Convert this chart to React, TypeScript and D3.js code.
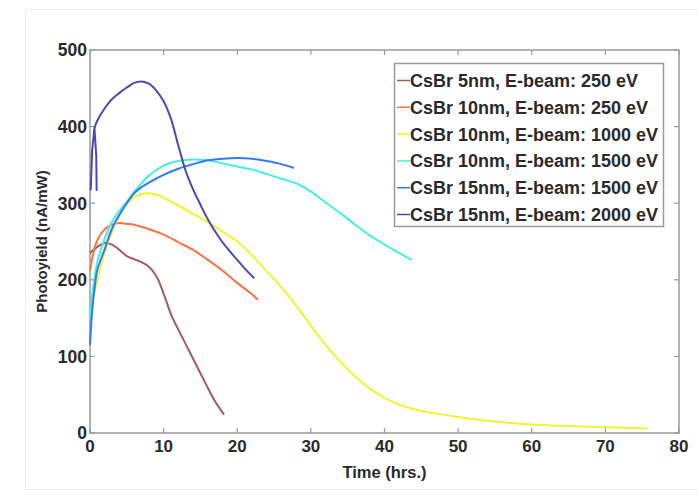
import React, { useEffect, useRef } from "react";
import * as d3 from "d3";

// series values: [time (hrs), photoyield (nA/mW)]
const cs5nm250: [number, number][] = [
  [0, 235], [1, 243], [2, 248], [3, 246], [4, 239], [5, 231], [6, 227], [7, 223],
  [8, 217], [9, 205], [10, 182], [11, 155], [12, 135], [13, 116], [14, 97],
  [15, 78], [16, 59], [17, 41], [18.2, 24],
];
const cs10nm250: [number, number][] = [
  [0, 212], [0.4, 232], [1, 252], [2, 266], [3, 272], [4, 274], [5, 273], [6, 272],
  [8, 266], [10, 259], [12, 249], [14, 239], [16, 226], [18, 212], [20, 196],
  [22, 181], [22.8, 174],
];
const cs10nm1000: [number, number][] = [
  [0, 152], [0.5, 178], [1, 200], [2, 236], [3, 263], [4, 284], [5, 299], [6, 308],
  [7, 312], [8, 313], [9, 311], [10, 307], [12, 297], [14, 286], [16, 275],
  [18, 263], [20, 250], [22, 232], [24, 211], [26, 190], [28, 166], [30, 140],
  [32, 115], [34, 93], [36, 74], [38, 58], [40, 46], [42, 37], [44, 31], [46, 27],
  [48, 24], [50, 21], [55, 15], [60, 11], [65, 9], [70, 7.5], [75.8, 6],
];
const cs10nm1500: [number, number][] = [
  [0, 150], [0.5, 195], [1, 224], [2, 254], [3, 276], [4, 290], [5, 302], [6, 315],
  [8, 336], [10, 349], [12, 355], [14, 357], [16, 356], [18, 352], [20, 348],
  [22, 344], [24, 338], [26, 332], [28, 326], [30, 315], [32, 301], [34, 287],
  [36, 272], [38, 258], [40, 246], [42, 235], [43.7, 226],
];
const cs15nm1500: [number, number][] = [
  [0, 115], [0.3, 160], [0.7, 195], [1, 213], [2, 240], [3, 267], [4, 285], [5, 300],
  [6, 313], [7, 321], [8, 327], [10, 337], [12, 345], [14, 351], [16, 356],
  [18, 358], [20, 359], [22, 358], [24, 355], [26, 351], [27.7, 346],
];
// the 2000 eV run starts with a short back-and-forth hook near t = 0
const cs15nm2000Hook: [number, number][] = [
  [0.9, 316], [0.85, 362], [0.6, 398], [0.3, 370], [0.1, 318], [0.3, 370], [0.6, 398],
];
const cs15nm2000: [number, number][] = [
  [0.6, 398], [1, 408], [2, 424], [3, 436], [4, 444], [5, 451], [6, 457], [7, 459],
  [8, 456], [9, 447], [10, 433], [11, 410], [12, 375], [13, 342], [14, 318],
  [15, 298], [16, 279], [17, 263], [18, 249], [19, 237], [20, 226], [21, 215],
  [22.3, 202],
];

const seriesNames = [
  "CsBr 5nm, E-beam: 250 eV",
  "CsBr 10nm, E-beam: 250 eV",
  "CsBr 10nm, E-beam: 1000 eV",
  "CsBr 10nm, E-beam: 1500 eV",
  "CsBr 15nm, E-beam: 1500 eV",
  "CsBr 15nm, E-beam: 2000 eV",
];
const seriesData = [cs5nm250, cs10nm250, cs10nm1000, cs10nm1500, cs15nm1500, cs15nm2000];
const seriesColors = ["#a65a5a", "#ff7142", "#eef52c", "#44f0e2", "#3479f0", "#4848b6"];

const xTicks = [0, 10, 20, 30, 40, 50, 60, 70, 80];
const yTicks = [0, 100, 200, 300, 400, 500];

const W = 697;
const H = 498;

function PhotoyieldChart() {
  const ref = useRef<SVGSVGElement>(null);

  useEffect(() => {
    const svg = d3.select(ref.current);
    svg.selectAll("*").remove();

    const left = 90, right = 679, top = 50, bottom = 433;
    const x = d3.scaleLinear().domain([0, 80]).range([left, right]);
    const y = d3.scaleLinear().domain([0, 500]).range([bottom, top]);
    const font = "'Liberation Sans', Arial, sans-serif";
    const axisColor = "#9a9a9a";
    const textColor = "#2a2a2a";

    svg.append("rect").attr("width", W).attr("height", H).attr("fill", "#fff");
    // faint figure frame
    svg.append("rect")
      .attr("x", 25.5).attr("y", 9.5)
      .attr("width", W).attr("height", 480)
      .attr("fill", "none").attr("stroke", "#ececec");

    // plot box
    svg.append("rect")
      .attr("x", left).attr("y", top)
      .attr("width", right - left).attr("height", bottom - top)
      .attr("fill", "none").attr("stroke", axisColor).attr("stroke-width", 1.5);

    const tickLen = 5;
    const g = svg.append("g").attr("stroke", axisColor).attr("stroke-width", 1.2);
    xTicks.forEach(t => {
      g.append("line").attr("x1", x(t)).attr("x2", x(t)).attr("y1", bottom).attr("y2", bottom - tickLen);
      g.append("line").attr("x1", x(t)).attr("x2", x(t)).attr("y1", top).attr("y2", top + tickLen);
    });
    yTicks.forEach(t => {
      g.append("line").attr("x1", left).attr("x2", left + tickLen).attr("y1", y(t)).attr("y2", y(t));
      g.append("line").attr("x1", right).attr("x2", right - tickLen).attr("y1", y(t)).attr("y2", y(t));
    });

    svg.append("g").selectAll("text")
      .data(xTicks)
      .join("text")
      .attr("x", d => x(d))
      .attr("y", bottom + 19)
      .attr("text-anchor", "middle")
      .style("font-family", font)
      .style("font-size", "17px")
      .style("font-weight", "bold")
      .attr("fill", textColor)
      .text(d => d);

    svg.append("g").selectAll("text")
      .data(yTicks)
      .join("text")
      .attr("x", left - 3)
      .attr("y", d => y(d))
      .attr("dy", "0.36em")
      .attr("text-anchor", "end")
      .style("font-family", font)
      .style("font-size", "17.5px")
      .style("font-weight", "bold")
      .attr("fill", textColor)
      .text(d => d);

    svg.append("text")
      .attr("x", (left + right) / 2)
      .attr("y", 478)
      .attr("text-anchor", "middle")
      .style("font-family", font)
      .style("font-size", "16.5px")
      .style("font-weight", "bold")
      .attr("fill", textColor)
      .text("Time (hrs.)");

    svg.append("text")
      .attr("transform", "rotate(-90)")
      .attr("x", -(top + bottom) / 2)
      .attr("y", 47)
      .attr("text-anchor", "middle")
      .style("font-family", font)
      .style("font-size", "15px")
      .style("font-weight", "bold")
      .attr("fill", textColor)
      .text("Photoyield (nA/mW)");

    const line = d3.line<[number, number]>()
      .x(d => x(d[0]))
      .y(d => y(d[1]))
      .curve(d3.curveCatmullRom.alpha(0.5));
    const straight = d3.line<[number, number]>()
      .x(d => x(d[0]))
      .y(d => y(d[1]));

    svg.append("path")
      .attr("d", straight(cs15nm2000Hook))
      .attr("fill", "none")
      .attr("stroke", seriesColors[5])
      .attr("stroke-width", 2)
      .attr("stroke-linejoin", "round");

    svg.append("g").selectAll("path")
      .data(seriesData)
      .join("path")
      .attr("d", d => line(d))
      .attr("fill", "none")
      .attr("stroke", (_, i) => seriesColors[i])
      .attr("stroke-width", 2)
      .attr("stroke-linejoin", "round");

    // legend
    const lg = svg.append("g");
    lg.append("rect")
      .attr("x", 394.5).attr("y", 63.5)
      .attr("width", 269).attr("height", 163)
      .attr("fill", "#fff").attr("stroke", axisColor).attr("stroke-width", 1.5);
    const rows = lg.selectAll("g")
      .data(seriesNames)
      .join("g")
      .attr("transform", (_, i) => `translate(0,${80.5 + i * 26.8})`);
    rows.append("line")
      .attr("x1", 397).attr("x2", 410)
      .attr("stroke", (_, i) => seriesColors[i])
      .attr("stroke-width", 1.5);
    rows.append("text")
      .attr("x", 410)
      .attr("dy", "0.36em")
      .style("font-family", font)
      .style("font-size", "18px")
      .style("font-weight", "bold")
      .attr("fill", textColor)
      .text(d => d);
  }, []);

  return <svg ref={ref} width={W} height={H} style={{ position: "absolute", left: 0, top: 0 }}></svg>;
}

export default function App() {
  return <PhotoyieldChart />;
}
